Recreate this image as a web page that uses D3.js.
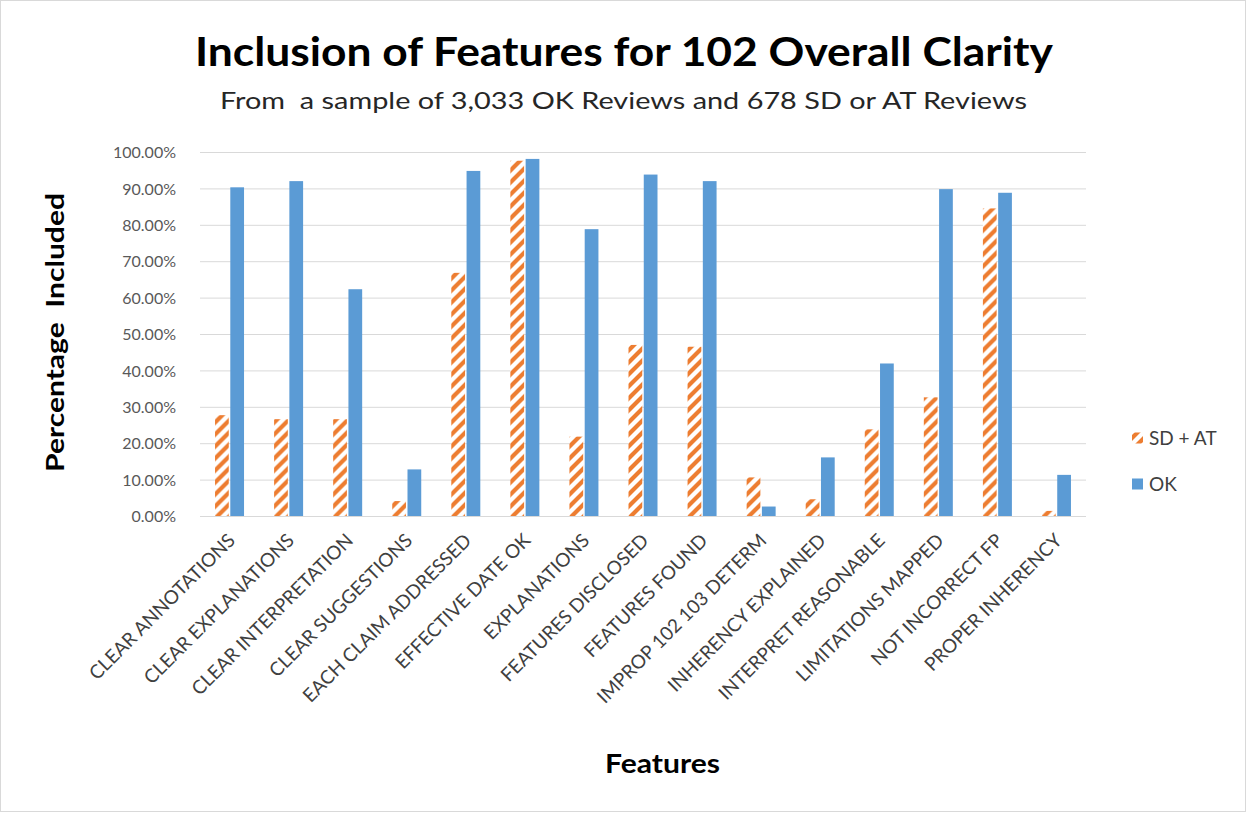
<!DOCTYPE html>
<html><head><meta charset="utf-8">
<script src="https://cdn.jsdelivr.net/npm/d3@7"></script>
<style>
html,body{margin:0;padding:0;background:#fff;}
svg text{font-family:Lato, "Open Sans", sans-serif;}
</style></head>
<body><svg id="c" width="1247" height="813"></svg>
<script>
const categories = ["CLEAR ANNOTATIONS","CLEAR EXPLANATIONS","CLEAR INTERPRETATION","CLEAR SUGGESTIONS","EACH CLAIM ADDRESSED","EFFECTIVE DATE OK","EXPLANATIONS","FEATURES DISCLOSED","FEATURES FOUND","IMPROP 102 103 DETERM","INHERENCY EXPLAINED","INTERPRET REASONABLE","LIMITATIONS MAPPED","NOT INCORRECT FP","PROPER INHERENCY"];
const seriesNames = ["SD + AT","OK"];
const sdAt = [27.7,26.6,26.6,4.1,66.8,97.6,21.8,47.0,46.5,10.6,4.6,23.8,32.6,84.5,1.4];
const ok = [90.3,92.0,62.3,12.8,94.8,98.1,78.8,93.8,92.0,2.6,16.1,41.9,89.8,88.8,11.3];
const yTicks = [0,10,20,30,40,50,60,70,80,90,100];

const svg = d3.select("#c");
svg.append("rect").attr("x",0.5).attr("y",0.5).attr("width",1245).attr("height",811)
  .attr("fill","#fff").attr("stroke","#d9d9d9");

const defs = svg.append("defs");
const pat = defs.append("pattern").attr("id","hatch").attr("patternUnits","userSpaceOnUse")
  .attr("width",12).attr("height",12);
pat.append("rect").attr("width",12).attr("height",12).attr("fill","#fff");
pat.append("path").attr("d","M-3,15 L15,-3 M-6,6 L6,-6 M6,18 L18,6")
  .attr("stroke","#ed7d31").attr("stroke-width",4.2);

const pLeft=200, pRight=1086, pTop=152, pBottom=516;
const x = d3.scaleBand().domain(categories).range([pLeft,pRight]).padding(0);
const xs = d3.scaleBand().domain(seriesNames).range([-14.5,14.5]).paddingInner(0.1);
const y = d3.scaleLinear().domain([0,100]).range([pBottom,pTop]);

// gridlines
svg.append("g").selectAll("line").data(yTicks).join("line")
  .attr("x1",pLeft).attr("x2",pRight).attr("y1",d=>y(d)+0.5).attr("y2",d=>y(d)+0.5)
  .attr("stroke","#d9d9d9").attr("stroke-width",1);

// y axis labels
const yAxis = d3.axisLeft(y).tickValues(yTicks).tickSize(0).tickPadding(0)
  .tickFormat(d=>d.toFixed(2)+"%");
const yg = svg.append("g").attr("transform",`translate(176,0)`).call(yAxis);
yg.select(".domain").remove();
yg.selectAll("text").attr("font-size",16).attr("fill","#595959").attr("font-family","Lato, sans-serif").attr("dy","0.35em");

// bars
const data = categories.map((c,i)=>({c, vals:[{s:seriesNames[0],v:sdAt[i]},{s:seriesNames[1],v:ok[i]}]}));
const g = svg.append("g").selectAll("g").data(data).join("g")
  .attr("transform",d=>`translate(${x(d.c)+x.bandwidth()/2},0)`);
g.selectAll("rect").data(d=>d.vals).join("rect")
  .attr("x",d=>xs(d.s)).attr("width",xs.bandwidth())
  .attr("y",d=>y(d.v)).attr("height",d=>pBottom-y(d.v))
  .attr("fill",d=>d.s===seriesNames[0]?"url(#hatch)":"#5b9bd5");

// x labels
svg.append("g").selectAll("text").data(categories).join("text")
  .attr("transform",d=>`translate(${x(d)+x.bandwidth()/2+2},537) rotate(-45)`)
  .attr("text-anchor","end").attr("dy","0.35em")
  .attr("font-size",19).attr("fill","#404040").text(d=>d);

// titles
svg.append("text").attr("x",624).attr("y",66).attr("text-anchor","middle")
  .attr("font-size",40).attr("font-weight","bold").attr("fill","#000")
  .attr("textLength",858).attr("lengthAdjust","spacingAndGlyphs")
  .text("Inclusion of Features for 102 Overall Clarity");
svg.append("text").attr("x",623.5).attr("y",109).attr("text-anchor","middle")
  .attr("font-size",24).attr("fill","#262626")
  .attr("textLength",807).attr("lengthAdjust","spacingAndGlyphs")
  .style("white-space","pre")
  .text("From  a sample of 3,033 OK Reviews and 678 SD or AT Reviews");
svg.append("text").attr("transform","translate(64,332.5) rotate(-90)").attr("text-anchor","middle")
  .attr("font-size",25).attr("font-weight","bold").attr("fill","#000")
  .attr("textLength",279).attr("lengthAdjust","spacingAndGlyphs")
  .style("white-space","pre").text("Percentage  Included");
svg.append("text").attr("x",662.5).attr("y",773).attr("text-anchor","middle")
  .attr("font-size",27).attr("font-weight","bold").attr("fill","#000")
  .attr("textLength",115).attr("lengthAdjust","spacingAndGlyphs")
  .text("Features");

// legend
const lg = svg.append("g").selectAll("g").data(seriesNames).join("g")
  .attr("transform",(d,i)=>`translate(1132,${438+i*46})`);
lg.append("rect").attr("x",0).attr("y",-5.5).attr("width",11).attr("height",11)
  .attr("fill",(d,i)=>i===0?"url(#hatch)":"#5b9bd5");
lg.append("text").attr("x",17).attr("dy","0.35em").attr("font-size",19).attr("fill","#404040").text(d=>d);
</script></body></html>
